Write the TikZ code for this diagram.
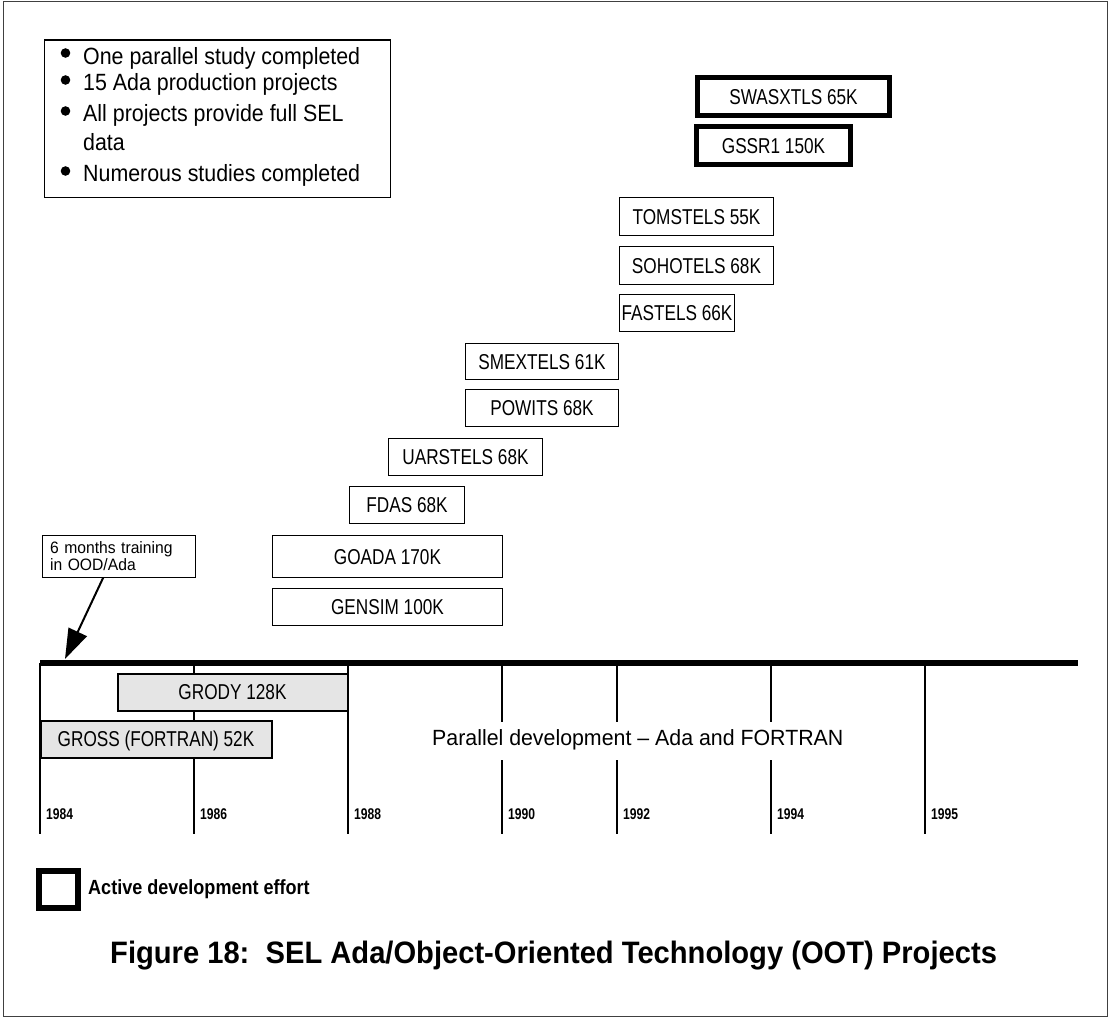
\documentclass[tikz,border=0pt]{standalone}
\usepackage{fontspec}
\setmainfont{Liberation Sans}
\newfontfamily\narrowfont{Liberation Sans}[FakeStretch=0.8]
\newfontfamily\yearfont{Liberation Sans}[FakeStretch=0.78]
\newfontfamily\actfont{Liberation Sans}[FakeStretch=0.88]
\newfontfamily\capfont{Liberation Sans}[FakeStretch=0.94]
\newfontfamily\legfont{Liberation Sans}[FakeStretch=0.91]
\newfontfamily\parfont{Liberation Sans}[FakeStretch=0.97]
\newfontfamily\trainfont{Liberation Sans}[FakeStretch=0.95]
\usetikzlibrary{arrows.meta,calc}
\begin{document}
\begin{tikzpicture}[x=1pt,y=-1pt,
  proj/.style={draw, line width=1.3pt, inner sep=0pt, text height=15.4pt, text depth=0pt,
    font=\narrowfont\fontsize{21.5}{25}\selectfont},
  activeproj/.style={proj, line width=5pt},
  oldproj/.style={proj, line width=2pt, fill=black!10},
  yearlabel/.style={anchor=base west, inner sep=0pt, font=\yearfont\bfseries\fontsize{15.5}{18}\selectfont},
  legline/.style={anchor=base west, inner sep=0pt, font=\legfont\fontsize{23.5}{29}\selectfont},
  tick/.style={line width=1.2pt},
]
\useasboundingbox (0,0) rectangle (1110,1019);
% outer frame
\draw[black!75, line width=1pt] (3,2) rectangle (1107,1016);

% legend of facts
\node[draw, line width=1.3pt, minimum width=346pt, minimum height=157pt, inner sep=0pt, anchor=north west] (legendbox) at (43.5,39.5) {};
\node[legline] (leg1) at (83,65) {One parallel study completed};
\node[legline] (leg2) at (83,91) {15 Ada production projects};
\node[legline] (leg3) at (83,122) {All projects provide full SEL};
\node[legline] (leg4) at (83,151) {data};
\node[legline] (leg5) at (83,182) {Numerous studies completed};
\fill (65.5,53) circle (4.8);
\fill (65.5,80) circle (4.8);
\fill (65.5,111) circle (4.8);
\fill (65.5,171) circle (4.8);

% time axis ticks
\foreach \x/\yr/\gap in {40/1984/0,194/1986/0,348/1988/0,502/1990/1,617/1992/1,771/1994/1,925/1995/0} {
  \coordinate (t\yr) at (\x,663);
  \coordinate (b\yr) at (\x,834);
  \ifnum\gap=1
    \draw[tick] (t\yr) -- (\x,722) (\x,760) -- (b\yr);
  \else
    \draw[tick] (t\yr) -- (b\yr);
  \fi
  \node[yearlabel] (y\yr) at (\x+6,819) {\yr};
}
\coordinate (axisL) at (40,663);
\coordinate (axisR) at (1078,663);
\draw[line width=5.5pt] (axisL) -- (axisR);

% projects
\node[activeproj, minimum width=192pt, minimum height=38pt] (swas) at (793.5,96.5) {SWASXTLS 65K};
\node[activeproj, minimum width=154pt, minimum height=38pt] (gssr) at (773.5,145.5) {GSSR1 150K};
\node[proj, minimum width=154pt, minimum height=38pt] (toms) at (696.5,216.5) {TOMSTELS 55K};
\node[proj, minimum width=154pt, minimum height=38pt] (soho) at (696.5,265.5) {SOHOTELS 68K};
\node[proj, minimum width=115pt, minimum height=37pt] (fast) at (677,313) {FASTELS 66K};
\node[proj, minimum width=153pt, minimum height=36pt] (smex) at (542,361.5) {SMEXTELS 61K};
\node[proj, minimum width=153pt, minimum height=37pt] (powi) at (542,408) {POWITS 68K};
\node[proj, minimum width=154pt, minimum height=37pt] (uars) at (465.5,457) {UARSTELS 68K};
\node[proj, minimum width=115pt, minimum height=37pt] (fdas) at (407,505) {FDAS 68K};
\node[proj, minimum width=230pt, minimum height=42pt] (goada) at (387.5,556.5) {GOADA 170K};
\node[proj, minimum width=230pt, minimum height=37pt] (gensim) at (387.5,607) {GENSIM 100K};
\node[oldproj, minimum width=230pt, minimum height=37pt] (grody) at (232.5,692) {GRODY 128K};
\node[oldproj, minimum width=231pt, minimum height=37pt] (gross) at (156,739) {GROSS (FORTRAN) 52K};

\node[anchor=base west, inner sep=0pt, font=\parfont\fontsize{22}{26}\selectfont] (parallel) at (432,745) {Parallel development \textendash\ Ada and FORTRAN};

% training note
\node[draw, line width=1.2pt, anchor=north west, minimum width=153pt, minimum height=42pt,
  inner xsep=8pt, inner ysep=0pt, text width=137pt, align=left,
  font=\trainfont\fontsize{16.5}{16.5}\selectfont] (train) at (41.5,534.5) {6 months training\\in OOD/Ada};
\coordinate (arrtip) at (65,659);
\draw[line width=2pt, -{Triangle[length=30pt,width=20pt]}] ($(train.south west)!0.4!(train.south east)$) -- (arrtip);

% active legend
\node[draw, line width=6pt, minimum width=39pt, minimum height=37pt, inner sep=0pt] (actsq) at (58.5,889.5) {};
\node[anchor=base west, inner sep=0pt, font=\actfont\bfseries\fontsize{20.5}{24}\selectfont] (acttext) at (88,894) {Active development effort};

% caption
\node[anchor=base west, inner sep=0pt, font=\capfont\bfseries\fontsize{31}{36}\selectfont] (caption) at (110,963) {Figure 18:\ \ SEL Ada/Object-Oriented Technology (OOT) Projects};
\end{tikzpicture}
\end{document}
